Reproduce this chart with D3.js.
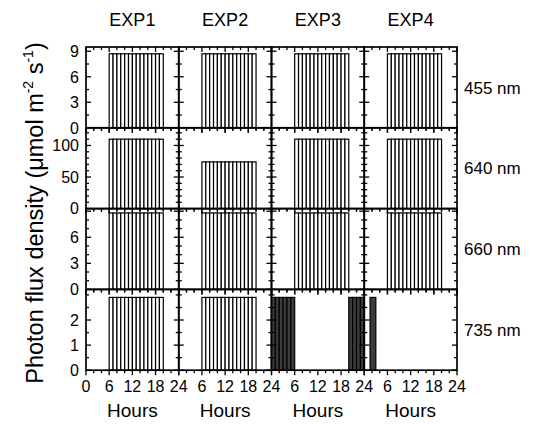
<!DOCTYPE html>
<html>
<head>
<meta charset="utf-8">
<script src="https://cdn.jsdelivr.net/npm/d3@7"></script>
<style>
  body { margin: 0; background: #fff; }
  svg { font-family: "Liberation Sans", Arial, sans-serif; }
</style>
</head>
<body>
<svg width="539" height="424"></svg>
<script>
var experiments = ["EXP1", "EXP2", "EXP3", "EXP4"];
var wavelengths = ["455", "640", "660", "735"];

// hourly light steps (start hour of each 1 h bar)
var dayHours = [6, 7, 8, 9, 10, 11, 12, 13, 14, 15, 16, 17, 18, 19];
var nightHoursExp3 = [0, 1, 2, 3, 4, 5, 20, 21, 22, 23];
var pulseExp4 = [[1.5, 3]];   // start, end (h)

// bar heights per wavelength, one per experiment
var level455 = [8.7, 8.7, 8.7, 8.7];
var level640 = [110, 74, 110, 110];
var level660 = [8.8, 8.8, 8.8, 8.8];
var level735 = [2.9, 2.9, 2.9, 2.9];

var yMax = [9.5, 128, 9.3, 3.22];
var yTicks = [[0, 3, 6, 9], [0, 50, 100], [0, 3, 6], [0, 1, 2]];
var yMinor = [1.5, 10, 1, 0.5];
var xTicks = [0, 6, 12, 18, 24];

var levels = [level455, level640, level660, level735];

function hourBars(hours) {
  return hours.map(function(h) { return [h, h + 1]; });
}

// intervals + fill for each row/col
function panelBars(r, c) {
  if (r == 3 && c == 2) return { bars: hourBars(nightHoursExp3), fill: "#3c3c3c" };
  if (r == 3 && c == 3) return { bars: pulseExp4, fill: "#3c3c3c" };
  return { bars: hourBars(dayHours), fill: "#fff" };
}

var svg = d3.select("svg");
var mLeft = 86, mTop = 47, pw = 92.75, ph = 80.8;

var x = d3.scaleLinear().domain([0, 24]).range([0, pw]);

for (var r = 0; r < 4; r++) {
  var y = d3.scaleLinear().domain([0, yMax[r]]).range([ph, 0]);
  for (var c = 0; c < 4; c++) {
    var g = svg.append("g")
      .attr("transform", "translate(" + (mLeft + c * pw) + "," + (mTop + r * ph) + ")");

    var pb = panelBars(r, c);
    var lvl = levels[r][c];
    g.selectAll("rect.bar")
      .data(pb.bars)
      .enter().append("rect")
        .attr("class", "bar")
        .attr("x", function(d) { return x(d[0]); })
        .attr("width", function(d) { return x(d[1]) - x(d[0]); })
        .attr("y", y(lvl))
        .attr("height", ph - y(lvl))
        .style("fill", pb.fill)
        .style("stroke", "#000")
        .style("stroke-width", 1.2);

    // minor / major ticks
    var minor = d3.range(0, yMax[r] + 1e-9, yMinor[r]);
    var yt = g.append("g");
    minor.forEach(function(v) {
      var major = yTicks[r].indexOf(v) >= 0 || (r == 2 && v == 9) || (r == 0 && v % 3 == 0);
      var len = major ? 5 : 3;
      yt.append("line").attr("x1", 0).attr("x2", len).attr("y1", y(v)).attr("y2", y(v));
      yt.append("line").attr("x1", pw).attr("x2", pw - len).attr("y1", y(v)).attr("y2", y(v));
    });
    var xm = d3.range(0, 25, 2);
    xm.forEach(function(v) {
      var len = (v % 6 == 0) ? 5 : 3;
      yt.append("line").attr("x1", x(v)).attr("x2", x(v)).attr("y1", 0).attr("y2", len);
      yt.append("line").attr("x1", x(v)).attr("x2", x(v)).attr("y1", ph).attr("y2", ph + len);
    });
    yt.selectAll("line").style("stroke", "#000").style("stroke-width", 1.3);

    g.append("rect")
      .attr("width", pw).attr("height", ph)
      .style("fill", "none").style("stroke", "#000").style("stroke-width", 1.7);

    if (c == 0) {
      g.selectAll("text.yl")
        .data(yTicks[r])
        .enter().append("text")
          .attr("class", "yl")
          .attr("x", -7)
          .attr("y", function(d) { return y(d); })
          .attr("dy", "0.36em")
          .attr("text-anchor", "end")
          .style("font-size", "16px")
          .text(function(d) { return d; });
    }
    if (r == 3) {
      var labs = c == 0 ? xTicks : xTicks.slice(1);
      g.selectAll("text.xl")
        .data(labs)
        .enter().append("text")
          .attr("class", "xl")
          .attr("x", function(d) { return x(d); })
          .attr("y", ph + 22)
          .attr("text-anchor", "middle")
          .style("font-size", "16px")
          .text(function(d) { return d; });
      g.append("text")
        .attr("x", pw / 2).attr("y", ph + 47)
        .attr("text-anchor", "middle")
        .style("font-size", "19px")
        .text("Hours");
    }
    if (r == 0) {
      g.append("text")
        .attr("x", pw / 2).attr("y", -21)
        .attr("text-anchor", "middle")
        .style("font-size", "18px")
        .text(experiments[c]);
    }
  }
  svg.append("text")
    .attr("x", mLeft + 4 * pw + 7)
    .attr("y", mTop + r * ph + ph / 2)
    .attr("dy", "0.36em")
    .style("font-size", "17px")
    .text(wavelengths[r] + " nm");
}

var yl = svg.append("text")
  .attr("transform", "translate(43,213) rotate(-90)")
  .attr("text-anchor", "middle")
  .style("font-size", "23.5px");
yl.append("tspan").text("Photon flux density (\u03bcmol m");
yl.append("tspan").attr("dy", -10).style("font-size", "14px").text("-2");
yl.append("tspan").attr("dy", 10).text(" s");
yl.append("tspan").attr("dy", -10).style("font-size", "14px").text("-1");
yl.append("tspan").attr("dy", 10).text(")");
</script>
</body>
</html>
